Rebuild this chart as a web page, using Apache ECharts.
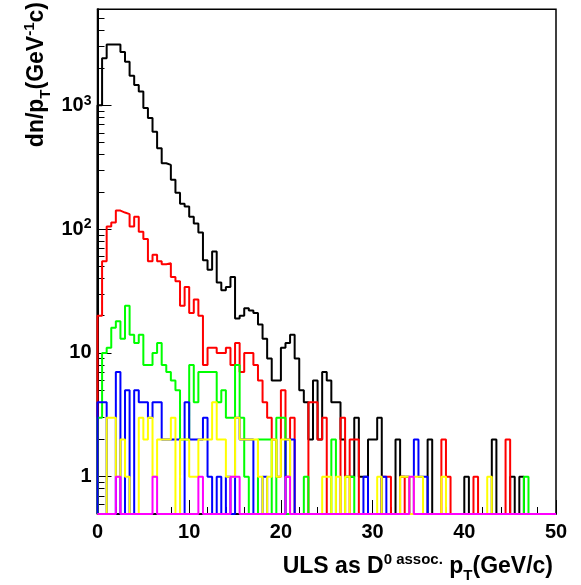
<!DOCTYPE html>
<html><head><meta charset="utf-8">
<script src="https://cdn.jsdelivr.net/npm/echarts@6/dist/echarts.min.js"></script>
<style>html,body{margin:0;padding:0;background:#fff}#c{width:581px;height:585px}</style>
</head><body><div id="c"></div>
<script>
// ---- data: 100 bins of 0.5 GeV/c from 0 to 50 ----
const binWidth = 0.5;
const xMin = 0;
const xMax = 50;
const yMin = 0.5;
const yMax = 5960;

const blackCounts = [1000,2400,3100,3100,3100,2700,2250,1730,1460,1290,
  950,790,610,450,340,330,250,197,160,152,
  126,111,94,56,47,66,37,32,34,41,
  19,20,23,22,21,17,13,9,6,6,
  11,12,14,9,5,4,2,6,2,7,
  6,4,4,2,1,1,3,1,1,2,
  2,3,0,0,0,2,1,1,0,0,
  0,0,2,0,0,0,0,0,0,0,
  1,0,0,0,0,0,2,0,0,0,
  1,0,1,0,0,0,0,0,0,0];
const redCounts = [20,55,105,113,141,136,132,105,126,95,
  83,55,62,55,52,53,41,38,24,34,
  21,27,20,8,11,11,10,10,11,8,
  12,7,10,10,8,6,4,3,2,1,
  5,1,3,0,0,0,4,4,2,3,
  0,0,0,3,0,2,2,0,0,0,
  0,0,1,1,0,0,1,0,0,0,
  0,0,0,0,0,2,1,0,0,0,
  0,0,1,0,0,0,0,0,0,2,
  0,0,0,0,0,0,0,0,0,0];
const greenCounts = [3,10,11,16,18,13,24,14,12,14,
  8,8,10,12,8,7,6,5,2,2,
  8,4,7,7,7,7,4,5,3,3,
  8,3,1,0,0,2,2,2,0,3,
  3,0,0,0,0,1,0,0,0,0,
  0,2,0,0,1,1,0,0,0,0,
  0,0,0,0,0,0,0,0,0,0,
  0,0,0,0,0,0,0,0,0,0,
  0,0,0,0,0,0,0,0,0,0,
  0,0,0,1,0,0,0,0,0,0];
const blueCounts = [4,4,0,0,7,0,5,0,5,4,
  4,3,4,4,2,2,2,2,0,4,
  2,2,2,3,1,0,1,0,1,0,
  3,2,2,2,0,0,1,0,0,0,
  0,2,2,0,0,0,0,0,0,0,
  0,0,0,0,0,0,0,0,1,0,
  0,0,1,0,0,0,0,0,0,2,
  1,1,0,0,0,0,0,0,0,0,
  0,0,0,0,0,0,0,0,0,0,
  0,0,0,0,0,0,0,0,0,0];
const yellowCounts = [0,0,3,3,1,2,1,0,0,3,
  2,3,1,2,2,2,3,0,2,2,
  1,1,2,2,2,4,2,2,1,1,
  3,2,2,2,2,1,0,1,2,1,
  2,2,0,0,0,0,0,0,0,1,
  1,0,1,0,1,0,0,0,0,0,
  0,1,0,0,0,0,1,1,0,1,
  1,0,0,0,0,1,0,0,0,0,
  0,0,0,0,0,1,0,0,0,0,
  0,0,0,0,0,0,0,0,0,0];
const magentaCounts = [0,0,0,0,1,0,0,0,0,0,
  0,0,1,0,0,0,0,0,0,0,
  0,0,1,0,0,0,0,0,0,1,
  1,0,0,0,0,0,0,0,0,0,
  0,1,0,0,0,0,0,0,0,0,
  0,0,0,0,0,0,0,0,0,0,
  0,0,0,0,0,0,0,0,1,0,
  0,0,0,0,0,0,0,0,0,0,
  0,0,0,0,0,0,0,0,0,0,
  0,0,0,0,0,0,0,0,0,0];

const yMajorTicks = [1, 10, 100, 1000];
const yMinorTicks = [0.6,0.7,0.8,0.9,2,3,4,5,6,7,8,9,20,30,40,50,60,70,80,90,
  200,300,400,500,600,700,800,900,2000,3000,4000,5000];
const xLabelStep = 10;
const xMinorSplit = 5;

const seriesDefs = [
  {name:'black', data: blackCounts, color:'#000000'},
  {name:'red', data: redCounts, color:'#ff0000'},
  {name:'green', data: greenCounts, color:'#00ff00'},
  {name:'blue', data: blueCounts, color:'#0000ff'},
  {name:'yellow', data: yellowCounts, color:'#ffff00'},
  {name:'magenta', data: magentaCounts, color:'#ff00ff'}
];

// histogram outline: empty bins are drawn on the lower frame (as ROOT does on log scale)
function histPoints(vals){
  const pts = [[xMin, yMin]];
  vals.forEach((v,i)=>pts.push([xMin + i*binWidth, v>0 ? v : yMin]));
  const last = vals[vals.length-1];
  pts.push([xMin + vals.length*binWidth, last>0 ? last : yMin]);
  pts.push([xMin + vals.length*binWidth, yMin]);
  return pts;
}

const FONT = '"Liberation Sans", Arial, Helvetica, sans-serif';
const chart = echarts.init(document.getElementById('c'), null, {renderer:'canvas'});

const titleRich = {
  m: {fontSize: 23, fontWeight: 'bold', fontFamily: FONT, fill: '#000', lineHeight: 24},
  d: {fontSize: 15, fontWeight: 'bold', fontFamily: FONT, fill: '#000', lineHeight: 15, padding: [17,0,0,0]},
  u: {fontSize: 15, fontWeight: 'bold', fontFamily: FONT, fill: '#000', lineHeight: 15, padding: [0,0,15,0]}
};

chart.setOption({
  animation: false,
  backgroundColor: '#ffffff',
  grid: {left: 97.5, right: 25, top: 9.3, bottom: 71, show: true,
         borderColor: '#000', borderWidth: 1.5, backgroundColor: 'transparent', containLabel: false},
  xAxis: [{
    type: 'value', min: xMin, max: xMax, interval: xLabelStep, position: 'bottom',
    axisLine: {show: true, onZero: false, lineStyle: {color: '#000', width: 1.5}},
    axisTick: {show: true, inside: true, length: 14, lineStyle: {color: '#000', width: 1}},
    minorTick: {show: true, splitNumber: xMinorSplit, length: 7, lineStyle: {color: '#000', width: 1}},
    splitLine: {show: false},
    axisLabel: {color: '#000', fontSize: 20, fontWeight: 'bold', fontFamily: FONT, margin: 8}
  }],
  yAxis: [{
    type: 'log', logBase: 10, min: yMin, max: yMax, position: 'left',
    axisLine: {show: true, onZero: false, lineStyle: {color: '#000', width: 2}},
    axisTick: {show: true, inside: true, length: 14, customValues: yMajorTicks, lineStyle: {color: '#000', width: 1}},
    splitLine: {show: false},
    axisLabel: {
      customValues: yMajorTicks, margin: 6, color: '#000',
      fontSize: 20, fontWeight: 'bold', fontFamily: FONT,
      formatter: function(v){
        const e = Math.round(Math.log10(v));
        if (e <= 1) return '{b|' + String(Math.round(v)) + '}';
        return '{b|10}{s|' + e + '}';
      },
      rich: {
        b: {fontSize: 20, fontWeight: 'bold', fontFamily: FONT, color: '#000', lineHeight: 20},
        s: {fontSize: 14, fontWeight: 'bold', fontFamily: FONT, color: '#000', lineHeight: 14, padding: [0,0,9,0]}
      }
    }
  },{
    type: 'log', logBase: 10, min: yMin, max: yMax, position: 'left',
    axisLine: {show: false},
    axisTick: {show: true, inside: true, length: 7, customValues: yMinorTicks, lineStyle: {color: '#000', width: 1}},
    axisLabel: {show: false},
    splitLine: {show: false}
  }],
  series: seriesDefs.map(s => ({
    name: s.name, type: 'line', step: 'end', showSymbol: false, symbol: 'none',
    clip: false, xAxisIndex: 0, yAxisIndex: 0,
    lineStyle: {color: s.color, width: 2},
    data: histPoints(s.data)
  })),
  graphic: [{
    type: 'text', x: 37, y: 2, rotation: Math.PI/2,
    style: {
      text: '{m|dn/p}{d|T}{m|(GeV}{u|-1}{m|c)}',
      align: 'right', verticalAlign: 'middle', fill: '#000',
      font: 'bold 23px ' + FONT, rich: titleRich
    }
  },{
    type: 'text', x: 553, y: 567,
    style: {
      text: '{m|ULS as D}{u|0 assoc.}{m| p}{d|T}{m|(GeV/c)}',
      align: 'right', verticalAlign: 'middle', fill: '#000',
      font: 'bold 23px ' + FONT, rich: titleRich
    }
  }]
});
</script>
</body></html>
